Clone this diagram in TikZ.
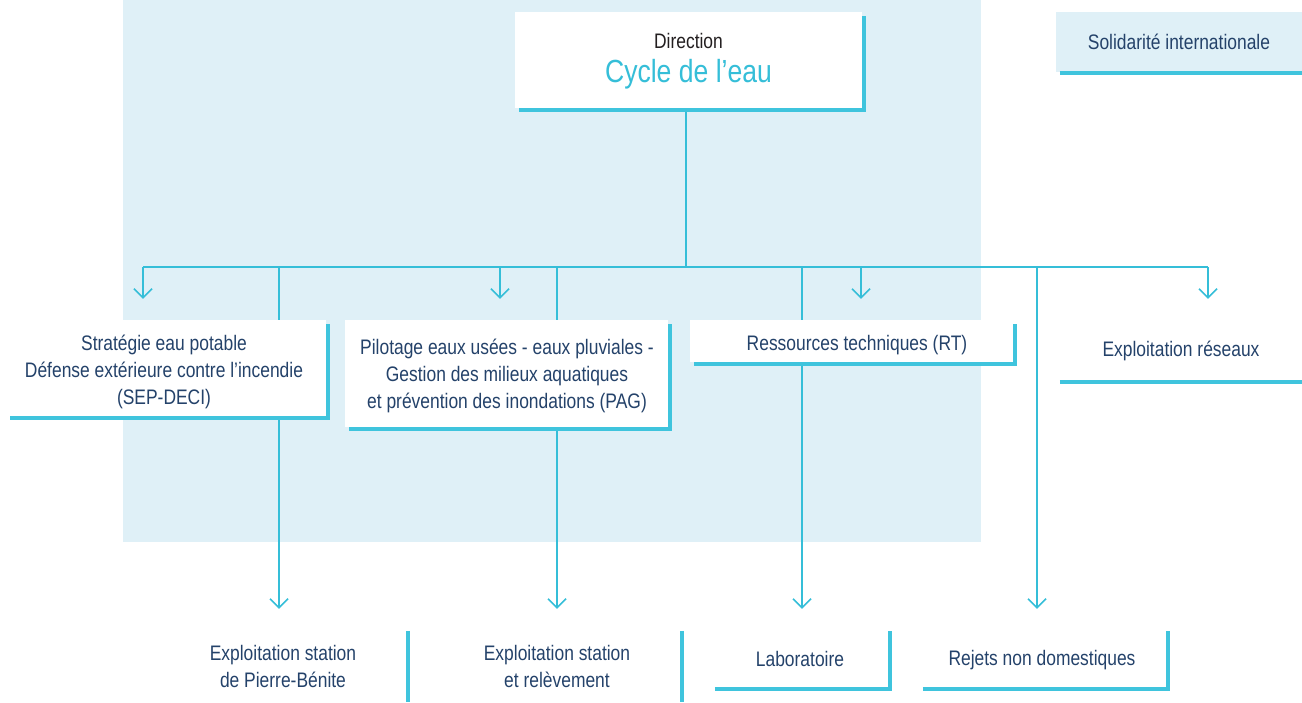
\documentclass[tikz,border=0pt]{standalone}
\usepackage{fontspec}
\setmainfont{Liberation Sans}[FakeStretch=0.83]
\usetikzlibrary{arrows.meta,shadows}
\definecolor{bgblue}{HTML}{DFF0F7}
\definecolor{cyanl}{HTML}{35BED8}
\definecolor{cyanbar}{HTML}{3FC4DD}
\definecolor{navy}{HTML}{24426A}
\definecolor{darkt}{HTML}{231F20}
\pgfdeclarelayer{bg}
\pgfdeclarelayer{lines}
\pgfsetlayers{bg,lines,main}
\begin{document}
\begin{tikzpicture}[x=1pt,y=-1pt,
  txt/.style={font=\fontsize{21}{27}\selectfont, text=navy, align=center, inner sep=0pt},
  card/.style={fill=white, inner sep=0pt, general shadow={fill=cyanbar, shadow xshift=4pt, shadow yshift=-4pt}},
  plain/.style={txt},
  bar/.style={draw=cyanbar, line width=4pt, line join=miter},
  conn/.style={draw=cyanl, line width=1.5pt},
  arr/.style={-{Straight Barb[length=9pt,width=18pt]}}
]
\useasboundingbox (0,0) rectangle (1302,702);
\begin{pgfonlayer}{bg}
  \fill[bgblue] (123,0) rectangle (981,542);
\end{pgfonlayer}

% top
\node[card, minimum width=347pt, minimum height=96pt] (dirbox) at (688.5,60) {};
\node[txt] (dir) at (688.5,61)
  {{\color{darkt}Direction}\\[7pt]{\fontsize{32}{34}\selectfont\color{cyanl}Cycle de l’eau}};
\node[plain, fill=bgblue, minimum width=246pt, minimum height=60pt] (sol) at (1179,42) {Solidarité internationale};
\draw[bar] ([shift={(4,1)}]sol.south west) -- ([shift={(0,1)}]sol.south east);

% second row
\node[card, minimum width=320pt, minimum height=96pt] (sepbox) at (166,368) {};
\node[txt] (sep) at (164,372)
  {Stratégie eau potable\\Défense extérieure contre l’incendie\\(SEP-DECI)};
\node[card, minimum width=323pt, minimum height=107pt] (pagbox) at (506.5,373.5) {};
\node[txt] (pag) at (507,375.5)
  {Pilotage eaux usées - eaux pluviales -\\Gestion des milieux aquatiques\\et prévention des inondations (PAG)};
\node[card, minimum width=323pt, minimum height=42pt] (rtbox) at (851.5,341) {};
\node[txt] (rt) at (857,345) {Ressources techniques (RT)};
\node[plain, minimum width=242pt, minimum height=62pt] (er) at (1181,351) {Exploitation réseaux};
\draw[bar] (er.south west) -- (er.south east);

% bottom row
\node[plain, minimum width=250pt, minimum height=71pt] (pb) at (283,666.5)
  {Exploitation station\\de Pierre-Bénite};
\node[plain, minimum width=250pt, minimum height=71pt] (stat) at (557,666.5)
  {Exploitation station\\et relèvement};
\node[plain, minimum width=180pt, minimum height=58pt] (lab) at (800,660) {\raisebox{2pt}{Laboratoire}};
\node[plain, minimum width=252pt, minimum height=58pt] (rej) at (1042,660) {Rejets non domestiques};
\draw[bar] (pb.north east) -- (pb.south east);
\draw[bar] (stat.north east) -- (stat.south east);
\draw[bar] ([xshift=5pt]lab.south west) -- (lab.south east) -- (lab.north east);
\draw[bar] ([xshift=7pt]rej.south west) -- (rej.south east) -- (rej.north east);

% connectors
\begin{pgfonlayer}{lines}
  \coordinate (bus) at (686,267);
  \coordinate (d1) at (143,267);
  \coordinate (d2) at (279,267);
  \coordinate (d3) at (500,267);
  \coordinate (d4) at (557,267);
  \coordinate (d5) at (802,267);
  \coordinate (d6) at (861,267);
  \coordinate (d7) at (1037,267);
  \coordinate (d8) at (1208,267);
  \draw[conn] (dirbox.south -| bus) -- (bus);
  \draw[conn] (d1) -- (d8);
  \draw[conn,arr,shorten >=21pt] (d1) -- (d1 |- sepbox.north);
  \draw[conn,arr,shorten >=21pt] (d3) -- (d3 |- pagbox.north);
  \draw[conn,arr,shorten >=21pt] (d6) -- (d6 |- rtbox.north);
  \draw[conn,arr,shorten >=21pt] (d8) -- (d8 |- er.north);
  \draw[conn,arr,shorten >=22pt] (d2) -- (d2 |- pb.north);
  \draw[conn,arr,shorten >=22pt] (d4) -- (d4 |- stat.north);
  \draw[conn,arr,shorten >=22pt] (d5) -- (d5 |- lab.north);
  \draw[conn,arr,shorten >=22pt] (d7) -- (d7 |- rej.north);
\end{pgfonlayer}
\end{tikzpicture}
\end{document}
